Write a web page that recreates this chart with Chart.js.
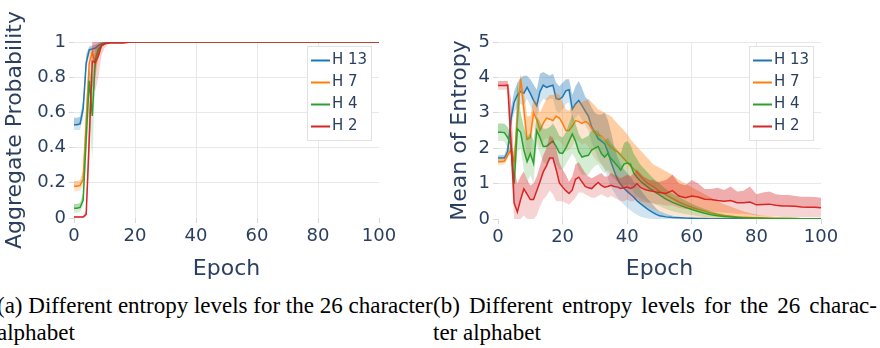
<!DOCTYPE html>
<html>
<head>
<meta charset="utf-8">
<script src="https://cdn.jsdelivr.net/npm/chart.js@4.4.0/dist/chart.umd.min.js"></script>
<style>
  html, body { margin: 0; padding: 0; background: #fff; }
  #page { position: relative; width: 880px; height: 348px; overflow: hidden; }
  canvas { position: absolute; top: 0; }
  .cap { position: absolute; top: 292px; font-family: "Liberation Serif", "Times New Roman", serif; font-size: 23px; line-height: 27px; color: #000; }
  .just { text-align: justify; text-align-last: justify; }
</style>
</head>
<body>
<div id="page">
  <canvas id="probChart" width="440" height="290" style="left:0"></canvas>
  <canvas id="entChart" width="440" height="290" style="left:440px"></canvas>
  <div class="cap" style="left:-3px; width:437px; white-space:nowrap">
    <div>(a) Different entropy levels for the 26 character</div>
    <div>alphabet</div>
  </div>
  <div class="cap" style="left:433px; width:444px">
    <div class="just">(b) Different entropy levels for the 26 charac-</div>
    <div>ter alphabet</div>
  </div>
</div>
<script>
const labels = ["H 13", "H 7", "H 4", "H 2"];
const colors = ["#1f77b4", "#ff7f0e", "#2ca02c", "#d62728"];

// (a) aggregate probability
const epochsA = [0, 1, 2, 3, 4, 5, 6, 7, 8, 9, 10, 11, 12, 13, 14, 16, 18, 20, 30, 40, 50, 60, 70, 80, 90, 100];
const probTicks = [0, 0.2, 0.4, 0.6, 0.8, 1];

const probH13 = [0.53, 0.53, 0.535, 0.62, 0.88, 0.955, 0.96, 0.965, 0.98, 0.99, 0.995, 0.998, 0.999, 1, 1, 1, 1, 1, 1, 1, 1, 1, 1, 1, 1, 1];
const probH13Hi = [0.57, 0.57, 0.575, 0.67, 0.93, 0.975, 0.98, 0.985, 0.995, 1, 1, 1, 1, 1, 1, 1, 1, 1, 1, 1, 1, 1, 1, 1, 1, 1];
const probH13Lo = [0.5, 0.5, 0.5, 0.57, 0.83, 0.93, 0.94, 0.945, 0.965, 0.98, 0.99, 0.996, 0.998, 1, 1, 1, 1, 1, 1, 1, 1, 1, 1, 1, 1, 1];

const probH7 = [0.18, 0.18, 0.185, 0.22, 0.55, 0.88, 0.94, 0.87, 0.95, 0.98, 0.99, 0.997, 0.999, 1, 1, 1, 1, 1, 1, 1, 1, 1, 1, 1, 1, 1];
const probH7Hi = [0.21, 0.21, 0.215, 0.27, 0.65, 0.93, 0.97, 0.93, 0.98, 0.99, 0.998, 1, 1, 1, 1, 1, 1, 1, 1, 1, 1, 1, 1, 1, 1, 1];
const probH7Lo = [0.15, 0.15, 0.155, 0.18, 0.45, 0.8, 0.88, 0.8, 0.9, 0.96, 0.985, 0.995, 0.998, 1, 1, 1, 1, 1, 1, 1, 1, 1, 1, 1, 1, 1];

const probH4 = [0.055, 0.055, 0.06, 0.1, 0.45, 0.78, 0.58, 0.9, 0.96, 0.98, 0.99, 0.997, 0.999, 1, 1, 1, 1, 1, 1, 1, 1, 1, 1, 1, 1, 1];
const probH4Hi = [0.08, 0.08, 0.085, 0.14, 0.55, 0.85, 0.8, 0.96, 0.985, 0.995, 1, 1, 1, 1, 1, 1, 1, 1, 1, 1, 1, 1, 1, 1, 1, 1];
const probH4Lo = [0.03, 0.03, 0.035, 0.07, 0.35, 0.6, 0.33, 0.8, 0.93, 0.965, 0.985, 0.995, 0.998, 1, 1, 1, 1, 1, 1, 1, 1, 1, 1, 1, 1, 1];

const probH2 = [0.005, 0.005, 0.005, 0.006, 0.02, 0.45, 0.89, 0.885, 0.92, 0.98, 0.99, 0.993, 0.995, 0.995, 0.994, 0.995, 0.998, 1, 1, 1, 1, 1, 1, 1, 1, 1];
const probH2Hi = [0.01, 0.01, 0.01, 0.012, 0.04, 0.6, 1, 1, 1, 1, 1, 1, 1, 1, 1, 1, 1, 1, 1, 1, 1, 1, 1, 1, 1, 1];
const probH2Lo = [0, 0, 0, 0, 0.005, 0.3, 0.75, 0.72, 0.8, 0.92, 0.965, 0.985, 0.99, 0.99, 0.988, 0.99, 0.995, 1, 1, 1, 1, 1, 1, 1, 1, 1];

// (b) mean of entropy
const epochsB = [
  0, 1, 2, 3, 4, 5, 6, 7, 8, 9,
  10, 11, 12, 13, 14, 15, 16, 17, 18, 19,
  20, 21, 22, 23, 24, 25, 26, 27, 28, 29,
  30, 31, 32, 33, 34, 35, 36, 37, 38, 39,
  40, 41, 42, 43, 44, 45, 46, 47, 48, 49,
  50, 52, 54, 56, 58, 60, 62, 64, 66, 68,
  70, 72, 74, 76, 78, 80, 82, 84, 86, 88,
  90, 92, 94, 96, 98, 100];
const entTicks = [0, 1, 2, 3, 4, 5];

const entH13 = [
  1.72, 1.72, 1.72, 1.9, 2.8, 3.3, 3.5, 3.6, 3.55, 3.72,
  3.55, 3.35, 3.2, 3.6, 3.78, 3.72, 3.75, 3.78, 3.4, 3.38,
  3.45, 3.62, 3.65, 3.1, 3.25, 3.35, 3.2, 3.05, 2.9, 2.6,
  2.45, 2.27, 2.2, 2.13, 1.9, 1.6, 1.35, 1.12, 0.98, 0.87,
  0.78, 0.7, 0.62, 0.52, 0.44, 0.37, 0.3, 0.24, 0.18, 0.13,
  0.09, 0.06, 0.045, 0.035, 0.025, 0.02, 0.015, 0.012, 0.01, 0.008,
  0.006, 0.005, 0.005, 0.004, 0.004, 0.003, 0.003, 0.003, 0.002, 0.002,
  0.002, 0.002, 0.002, 0.002, 0.002, 0.002];
const entH13Hi = [
  1.8, 1.8, 1.8, 2.1, 3.1, 3.6, 3.85, 4.0, 4.05, 4.05,
  3.95, 3.8, 3.65, 4.1, 4.15, 4.1, 4.05, 4.1, 3.85, 3.75,
  3.85, 3.95, 3.95, 3.5, 3.75, 3.9, 3.7, 3.45, 3.35, 3.15,
  3.0, 2.95, 2.95, 3.0, 2.8, 2.45, 2.05, 1.75, 1.55, 1.4,
  1.3, 1.2, 1.05, 0.95, 0.85, 0.72, 0.6, 0.5, 0.4, 0.3,
  0.22, 0.15, 0.1, 0.07, 0.05, 0.04, 0.03, 0.025, 0.02, 0.017,
  0.015, 0.013, 0.012, 0.011, 0.01, 0.01, 0.009, 0.009, 0.008, 0.008,
  0.008, 0.007, 0.007, 0.007, 0.006, 0.006];
const entH13Lo = [
  1.64, 1.64, 1.64, 1.72, 2.5, 3.0, 3.15, 3.25, 3.2, 3.4,
  3.2, 3.0, 2.85, 3.25, 3.4, 3.35, 3.4, 3.4, 3.05, 3.0,
  3.1, 3.25, 3.3, 2.75, 2.85, 2.95, 2.8, 2.65, 2.5, 2.15,
  1.95, 1.7, 1.55, 1.4, 1.15, 0.9, 0.75, 0.6, 0.5, 0.4,
  0.32, 0.25, 0.18, 0.12, 0.07, 0.04, 0.02, 0.01, 0, 0,
  0, 0, 0, 0, 0, 0, 0, 0, 0, 0,
  0, 0, 0, 0, 0, 0, 0, 0, 0, 0,
  0, 0, 0, 0, 0, 0];

const entH7 = [
  1.62, 1.62, 1.63, 1.8, 1.95, 1.62, 2.8, 3.95, 3.1, 2.25,
  2.3, 3.0, 2.8, 2.5, 2.7, 2.85, 2.82, 2.78, 2.9, 2.85,
  2.7, 2.5, 2.5, 2.62, 2.78, 2.75, 2.7, 2.75, 2.7, 2.55,
  2.42, 2.38, 2.35, 2.25, 2.12, 2.02, 1.95, 1.9, 1.8, 1.7,
  1.6, 1.5, 1.42, 1.32, 1.22, 1.12, 1.03, 0.97, 0.92, 0.85,
  0.78, 0.68, 0.58, 0.48, 0.4, 0.33, 0.27, 0.22, 0.17, 0.13,
  0.1, 0.08, 0.06, 0.05, 0.04, 0.03, 0.025, 0.02, 0.017, 0.015,
  0.012, 0.01, 0.01, 0.009, 0.008, 0.008];
const entH7Hi = [
  1.72, 1.72, 1.73, 1.9, 2.1, 1.9, 3.3, 4.1, 3.6, 2.9,
  2.9, 3.4, 3.3, 3.0, 3.2, 3.4, 3.5, 3.5, 3.55, 3.5,
  3.3, 3.1, 3.05, 3.15, 3.25, 3.3, 3.3, 3.35, 3.4, 3.3,
  3.2, 3.1, 3.05, 3.0, 2.95, 2.9, 2.8, 2.7, 2.6, 2.5,
  2.4, 2.25, 2.15, 2.05, 1.95, 1.85, 1.75, 1.65, 1.55, 1.5,
  1.45, 1.35, 1.25, 1.1, 1.0, 0.9, 0.8, 0.7, 0.6, 0.5,
  0.42, 0.35, 0.28, 0.22, 0.17, 0.13, 0.1, 0.08, 0.06, 0.05,
  0.04, 0.035, 0.03, 0.025, 0.02, 0.02];
const entH7Lo = [
  1.52, 1.52, 1.53, 1.7, 1.85, 1.4, 2.4, 3.7, 2.6, 1.6,
  1.7, 2.6, 2.3, 2.0, 2.2, 2.3, 2.2, 2.15, 2.25, 2.2,
  2.1, 1.9, 1.95, 2.05, 2.25, 2.2, 2.1, 2.15, 2.05, 1.85,
  1.7, 1.6, 1.55, 1.45, 1.3, 1.2, 1.1, 1.05, 0.95, 0.85,
  0.8, 0.7, 0.62, 0.55, 0.48, 0.42, 0.36, 0.32, 0.28, 0.24,
  0.2, 0.15, 0.11, 0.08, 0.06, 0.04, 0.03, 0.02, 0.01, 0.01,
  0, 0, 0, 0, 0, 0, 0, 0, 0, 0,
  0, 0, 0, 0, 0, 0];

const entH4 = [
  2.45, 2.45, 2.44, 2.3, 2.1, 1.0, 2.55, 2.45, 1.95, 1.62,
  1.85, 1.57, 2.5, 2.3, 2.05, 2.05, 2.13, 2.2, 2.05, 1.87,
  1.85, 2.0, 2.2, 2.4, 2.2, 1.9, 1.75, 1.78, 1.8, 1.95,
  2.0, 2.05, 1.85, 1.75, 1.85, 1.7, 1.6, 1.5, 1.38, 1.55,
  1.58, 1.55, 1.3, 1.18, 1.08, 1.0, 0.93, 0.86, 0.8, 0.74,
  0.68, 0.56, 0.47, 0.4, 0.33, 0.27, 0.21, 0.16, 0.12, 0.09,
  0.07, 0.055, 0.045, 0.035, 0.03, 0.025, 0.02, 0.017, 0.015, 0.013,
  0.012, 0.011, 0.01, 0.01, 0.01, 0.01];
const entH4Hi = [
  2.7, 2.7, 2.69, 2.6, 2.4, 1.5, 3.9, 3.0, 2.6, 2.3,
  2.45, 2.2, 2.9, 2.75, 2.55, 2.55, 2.6, 2.7, 2.55, 2.35,
  2.3, 2.45, 2.7, 2.95, 2.7, 2.4, 2.25, 2.3, 2.35, 2.5,
  2.5, 2.5, 2.3, 2.2, 2.3, 2.15, 2.05, 1.95, 1.85, 2.15,
  2.2, 2.1, 1.85, 1.7, 1.55, 1.45, 1.35, 1.25, 1.15, 1.08,
  1.0, 0.85, 0.72, 0.62, 0.52, 0.43, 0.35, 0.28, 0.22, 0.17,
  0.13, 0.1, 0.08, 0.06, 0.05, 0.04, 0.035, 0.03, 0.027, 0.025,
  0.022, 0.02, 0.02, 0.018, 0.017, 0.016];
const entH4Lo = [
  2.2, 2.2, 2.19, 2.0, 1.8, 0.6, 1.9, 2.0, 1.4, 1.0,
  1.25, 1.0, 2.1, 1.85, 1.6, 1.55, 1.65, 1.7, 1.55, 1.4,
  1.4, 1.55, 1.7, 1.85, 1.7, 1.4, 1.25, 1.25, 1.25, 1.4,
  1.5, 1.55, 1.4, 1.3, 1.4, 1.25, 1.15, 1.05, 0.9, 0.95,
  0.95, 1.0, 0.75, 0.65, 0.6, 0.55, 0.5, 0.47, 0.44, 0.4,
  0.36, 0.28, 0.22, 0.18, 0.14, 0.11, 0.08, 0.06, 0.04, 0.03,
  0.02, 0.015, 0.01, 0.008, 0.006, 0.005, 0.004, 0.003, 0.003, 0.003,
  0.003, 0.002, 0.002, 0.002, 0.002, 0.002];

const entH2 = [
  3.77, 3.77, 3.77, 3.78, 2.2, 0.45, 0.2, 0.55, 0.85, 0.7,
  0.55, 0.55, 0.8, 1.05, 1.33, 1.5, 1.72, 1.72, 1.4, 1.02,
  0.9, 0.8, 0.72, 0.82, 1.12, 1.18, 1.05, 0.92, 0.88, 0.86,
  0.95, 1.03, 0.95, 0.9, 0.92, 0.95, 0.92, 0.9, 0.86, 0.88,
  0.9, 0.86, 0.9, 1.0, 0.9, 0.85, 0.82, 0.8, 0.78, 0.76,
  0.75, 0.72, 0.8, 0.65, 0.6, 0.65, 0.62, 0.56, 0.55, 0.52,
  0.5, 0.52, 0.46, 0.46, 0.48, 0.4, 0.41, 0.42, 0.39, 0.37,
  0.37, 0.36, 0.34, 0.33, 0.33, 0.32];
const entH2Hi = [
  3.9, 3.9, 3.9, 3.9, 3.4, 1.4, 1.0, 1.2, 1.35, 1.1,
  0.95, 1.0, 1.2, 1.5, 1.8, 2.0, 2.35, 2.3, 2.0, 1.6,
  1.4, 1.25, 1.05, 1.2, 1.55, 1.6, 1.45, 1.3, 1.2, 1.15,
  1.2, 1.25, 1.3, 1.2, 1.2, 1.3, 1.25, 1.2, 1.15, 1.2,
  1.25, 1.2, 1.3, 1.4, 1.3, 1.2, 1.15, 1.1, 1.1, 1.05,
  1.05, 1.1, 1.25, 1.0, 0.95, 1.1, 1.0, 0.85, 0.85, 0.88,
  0.82, 0.92, 0.78, 0.8, 0.92, 0.7, 0.75, 0.78, 0.7, 0.68,
  0.68, 0.65, 0.63, 0.63, 0.62, 0.6];
const entH2Lo = [
  3.65, 3.65, 3.65, 3.65, 1.5, 0, 0, 0, 0.1, 0,
  0, 0, 0.1, 0.35, 0.55, 0.65, 0.8, 0.7, 0.5, 0.5,
  0.5, 0.45, 0.4, 0.5, 0.6, 0.75, 0.75, 0.7, 0.65, 0.6,
  0.6, 0.65, 0.7, 0.65, 0.6, 0.65, 0.6, 0.55, 0.5, 0.5,
  0.55, 0.5, 0.5, 0.6, 0.5, 0.48, 0.46, 0.45, 0.44, 0.42,
  0.42, 0.38, 0.38, 0.32, 0.28, 0.28, 0.26, 0.24, 0.22, 0.2,
  0.18, 0.17, 0.15, 0.14, 0.13, 0.1, 0.09, 0.08, 0.07, 0.06,
  0.06, 0.05, 0.05, 0.05, 0.05, 0.04];

const textColor = "#2a3f5f";
Chart.defaults.font.family = "'DejaVu Sans', sans-serif";
Chart.defaults.color = textColor;

function rgba(hex, a) {
  const n = parseInt(hex.slice(1), 16);
  return "rgba(" + (n >> 16) + "," + ((n >> 8) & 255) + "," + (n & 255) + "," + a + ")";
}

// legend box drawn inside the plot, top right
const boxLegend = {
  id: "boxLegend",
  afterDatasetsDraw(chart) {
    const { ctx, chartArea } = chart;
    const items = chart.data.datasets.filter(d => d.inLegend);
    const w = 65, h = 95;
    const x = chartArea.right - 7 - w, y = chartArea.top + 4;
    ctx.save();
    ctx.fillStyle = "#fff";
    ctx.fillRect(x, y, w, h);
    ctx.strokeStyle = "#e2e2e2";
    ctx.lineWidth = 1;
    ctx.strokeRect(x + 0.5, y + 0.5, w - 1, h - 1);
    ctx.font = "15px 'DejaVu Sans'";
    ctx.textBaseline = "middle";
    items.forEach((d, i) => {
      const cy = y + 14.5 + i * 22;
      ctx.strokeStyle = d.borderColor;
      ctx.lineWidth = 2;
      ctx.beginPath();
      ctx.moveTo(x + 4, cy);
      ctx.lineTo(x + 23, cy);
      ctx.stroke();
      ctx.fillStyle = textColor;
      ctx.fillText(d.label, x + 25, cy);
    });
    ctx.restore();
  }
};

function makeChart(id, epochs, series, yTicks, yTitle, box) {
  const datasets = [];
  series.forEach((s, k) => {
    const pts = arr => epochs.map((x, i) => ({ x: x, y: arr[i] }));
    const order = series.length - k;
    const c = colors[k];
    datasets.push({ label: labels[k] + " hi", data: pts(s[2]), borderColor: "rgba(0,0,0,0)", borderWidth: 0, pointRadius: 0, fill: false, order: order });
    datasets.push({ label: labels[k], data: pts(s[0]), borderColor: c, borderWidth: 1.5, pointRadius: 0, fill: "-1", backgroundColor: rgba(c, 0.38), order: order, inLegend: true });
    datasets.push({ label: labels[k] + " lo", data: pts(s[1]), borderColor: "rgba(0,0,0,0)", borderWidth: 0, pointRadius: 0, fill: "-1", backgroundColor: rgba(c, 0.2), order: order });
  });
  const yMax = yTicks[yTicks.length - 1];
  return new Chart(document.getElementById(id), {
    type: "line",
    data: { datasets: datasets },
    options: {
      responsive: false,
      animation: false,
      devicePixelRatio: 1,
      layout: { padding: { left: 0, top: 42, right: box.right, bottom: 0 } },
      elements: { line: { tension: 0 } },
      plugins: { legend: { display: false }, tooltip: { enabled: false } },
      scales: {
        x: {
          type: "linear", min: 0, max: 100,
          ticks: { stepSize: 20, font: { size: 18 }, padding: 3, maxRotation: 0 },
          grid: { color: c => (c.tick && (c.tick.value === 0 || c.tick.value === 100)) ? "rgba(0,0,0,0)" : "#e8e8e8", tickColor: "#d8d8d8", tickLength: 5 },
          border: { display: false },
          title: { display: true, text: "Epoch", font: { size: 22 }, padding: { top: 0, bottom: 8 } },
          afterFit: s => { s.height = box.xh; }
        },
        y: {
          min: 0, max: yMax,
          afterBuildTicks: s => { s.ticks = yTicks.map(v => ({ value: v })); },
          ticks: { font: { size: 18 }, padding: 3, callback: v => String(Math.round(v * 10) / 10) },
          grid: { color: c => (c.tick && c.tick.value === 0) ? "rgba(0,0,0,0)" : "#e8e8e8", tickColor: "#d8d8d8", tickLength: 5 },
          border: { display: false },
          title: { display: true, text: yTitle, font: { size: 22 }, padding: { top: box.tp, bottom: 0 } },
          afterFit: s => { s.width = box.yw; }
        }
      }
    },
    plugins: [boxLegend]
  });
}

makeChart("probChart", epochsA,
  [[probH13, probH13Lo, probH13Hi], [probH7, probH7Lo, probH7Hi], [probH4, probH4Lo, probH4Hi], [probH2, probH2Lo, probH2Hi]],
  probTicks, "Aggregate Probability", { right: 61, xh: 72, yw: 74, tp: 2 });

makeChart("entChart", epochsB,
  [[entH13, entH13Lo, entH13Hi], [entH7, entH7Lo, entH7Hi], [entH4, entH4Lo, entH4Hi], [entH2, entH2Lo, entH2Hi]],
  entTicks, "Mean of Entropy", { right: 59, xh: 71, yw: 58, tp: 7 });
</script>
</body>
</html>
